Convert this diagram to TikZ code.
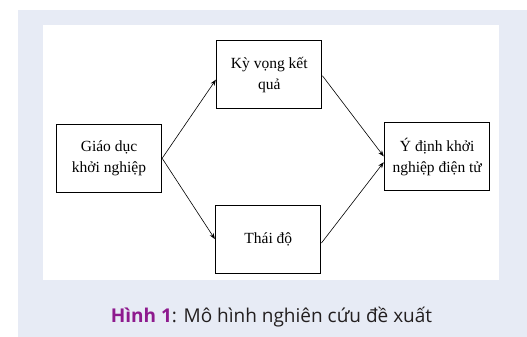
\documentclass[tikz,border=0pt]{standalone}
\usepackage{fontspec}
\setmainfont{Liberation Serif}
\newfontfamily\capfont{Open Sans}
\usetikzlibrary{arrows.meta}
\definecolor{panel}{HTML}{E7EBF5}
\definecolor{capPurple}{HTML}{8E1A8E}
\definecolor{capText}{HTML}{231F20}
\tikzset{
  box/.style={draw=black, line width=1.3pt, fill=white, minimum width=105pt, minimum height=68pt,
    align=center, font=\fontsize{15.5}{20.5}\selectfont, inner sep=2pt},
  link/.style={line width=0.6pt, -{Stealth[length=6pt,width=4.5pt]}, shorten >=0.5pt}
}
\begin{document}
\begin{tikzpicture}[x=1pt,y=-1pt]
\useasboundingbox (0,0) rectangle (527,337);
\fill[panel] (18,10) rectangle (527,337);
\fill[white] (43,25) rectangle (499,280);
\node[box] (gd) at (109,158.3) {Giáo dục\\khởi nghiệp};
\node[box] (kv) at (269.3,74.8) {Kỳ vọng kết\\quả};
\node[box] (td) at (268.3,239.5) {Thái độ};
\node[box] (yd) at (437.2,156.8) {Ý định khởi\\nghiệp điện tử};
\draw[link] (gd.east) -- ([yshift=-4.5pt]kv.west);
\draw[link] (gd.east) -- (td.west);
\draw[link] ([yshift=-1pt]kv.east) -- (yd.west);
\draw[link] ([yshift=-3.5pt]td.east) -- ([yshift=-5pt]yd.west);
\node[font=\capfont\fontsize{19}{22}\selectfont, text=capText] (cap) at (271.5,317)
  {\textbf{\textcolor{capPurple}{Hình 1}}: Mô hình nghiên cứu đề xuất};
\end{tikzpicture}
\end{document}
